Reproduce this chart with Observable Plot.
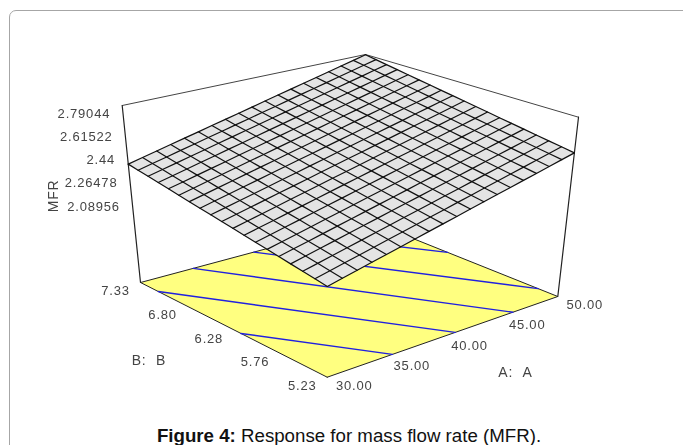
<!DOCTYPE html>
<html>
<head>
<meta charset="utf-8">
<script src="https://cdn.jsdelivr.net/npm/d3@7"></script>
<script src="https://cdn.jsdelivr.net/npm/@observablehq/plot@0.6"></script>
<style>
html,body{margin:0;padding:0;background:#fff;width:683px;height:445px;overflow:hidden}
#card{position:absolute;left:9px;top:10px;width:700px;height:520px;border:1.5px solid #a6a6a6;border-radius:7px;box-sizing:border-box}
#chart{position:absolute;left:0;top:0}
#chart svg{display:block}
#cap{position:absolute;left:0;top:423px;width:698px;text-align:center;font:18.7px/26px "Liberation Sans",Arial,sans-serif;color:#111}
</style>
</head>
<body>
<div id="card"></div>
<div id="chart"></div>
<div id="cap"><b>Figure 4:</b> Response for mass flow rate (MFR).</div>
<script>
// ---- axis values
const aTicks = [30, 35, 40, 45, 50];
const bTicks = [5.23, 5.76, 6.28, 6.80, 7.33];
const bLabels = ["5.23", "5.76", "6.28", "6.80", "7.33"];
const zTicks = [2.08956, 2.26478, 2.44, 2.61522, 2.79044];
const zLabels = ["2.08956", "2.26478", "2.44", "2.61522", "2.79044"];
const zFloor = 1.4565;   // level of the floor on the MFR axis, estimated

// ---- response surface: the plane read from its corners (fitted model)
const surfaceIntercept = 2.085;  // MFR at A=30, B=5.23
const surfaceSlopeA = 0.0220;
const surfaceSlopeB = 0.1255;
const gridSteps = 18;            // cells per side of the mesh

// ---- contour lines on the floor: end points [A, B]
const contourFrom = [[30, 6.20], [30, 7.13], [34.6, 7.33], [39.9, 7.33], [45, 7.33]];
const contourTo   = [[35.65, 5.23], [41.1, 5.23], [46.1, 5.23], [50, 5.45], [50, 6.46]];

// ---- view of the box: floor and ceiling corners (A30/B5.23, A50/B5.23, A50/B7.33, A30/B7.33)
const floorView = [[326.7, 376.7], [557.3, 296], [369, 220.6], [140, 282]];
const ceilingView = [[327, 184], [578, 116.7], [365, 54], [121.7, 105]];
function bilinear([p0, p1, p2, p3], u, v) {
  return [0, 1].map(k => (1-v)*((1-u)*p0[k] + u*p1[k]) + v*((1-u)*p3[k] + u*p2[k]));
}
function project(A, B, Z) {
  const u=(A-30)/20, v=(B-5.23)/(7.33-5.23), t=(Z-zFloor)/(2.79044-zFloor);
  const p=bilinear(floorView,u,v), q=bilinear(ceilingView,u,v);
  return [p[0]+(q[0]-p[0])*t, p[1]+(q[1]-p[1])*t];
}
function homography([[x0,y0],[x1,y1],[x2,y2],[x3,y3]]) {
  const dx1=x1-x2, dx2=x3-x2, sx=x0-x1+x2-x3, dy1=y1-y2, dy2=y3-y2, sy=y0-y1+y2-y3;
  const den=dx1*dy2-dx2*dy1, g=(sx*dy2-dx2*sy)/den, h=(dx1*sy-sx*dy1)/den;
  const a=x1-x0+g*x1, b=x3-x0+h*x3, d=y1-y0+g*y1, e=y3-y0+h*y3;
  return (u,v) => { const w=g*u+h*v+1; return {x:(a*u+b*v+x0)/w, y:(d*u+e*v+y0)/w}; };
}
const surface = (A, B) => surfaceIntercept + surfaceSlopeA*(A-30) + surfaceSlopeB*(B-5.23);
const gridA = d3.range(gridSteps+1).map(i => 30 + 20*i/gridSteps);
const gridB = d3.range(gridSteps+1).map(i => 5.23 + 2.1*i/gridSteps);

// ---- tables built from the values above
const pt = (A, B, Z) => { const [x,y]=project(A,B,Z); return {x,y}; };
const corners = [[30,5.23],[50,5.23],[50,7.33],[30,7.33],[30,5.23]];
const floor = corners.map(([A,B]) => pt(A,B,zFloor));
const surfaceOutline = corners.map(([A,B]) => pt(A,B,surface(A,B)));
const surfaceH = homography(surfaceOutline.slice(0,4).map(d => [d.x,d.y]));
const sp = (A, B) => surfaceH((A-30)/20, (B-5.23)/2.1);
const gridLines = [
  ...gridA.flatMap((A,i) => gridB.map(B => ({...sp(A,B), id:"a"+i}))),
  ...gridB.flatMap((B,i) => gridA.map(A => ({...sp(A,B), id:"b"+i})))
];
const contours = contourFrom.flatMap((f,i) => [
  {...pt(f[0],f[1],zFloor), id:i}, {...pt(contourTo[i][0],contourTo[i][1],zFloor), id:i}
]);
const boxTop = [[30,7.33],[50,7.33],[50,5.23]].map(([A,B]) => pt(A,B,2.79044));
const verticals = [[30,7.33],[50,5.23]].flatMap(([A,B],i) => [
  {...pt(A,B,zFloor), id:i}, {...pt(A,B,2.79044), id:i}
]);

const font = "'Liberation Sans',Arial,sans-serif";
const textColor = "#444";
const plot = Plot.plot({
  width: 683, height: 392, margin: 0,
  x: {domain:[0,683], range:[0,683], axis:null},
  y: {domain:[0,392], range:[0,392], axis:null},
  style: {background:"transparent", fontFamily:font, letterSpacing:"0.8px", filter:"blur(0.35px)"},
  marks: [
    Plot.line(boxTop, {x:"x", y:"y", stroke:"#444", strokeWidth:1}),
    Plot.line(verticals, {x:"x", y:"y", z:"id", stroke:"#222", strokeWidth:1.2}),
    Plot.line(floor, {x:"x", y:"y", fill:"#ffff80", stroke:"#222", strokeWidth:1}),
    Plot.line(contours, {x:"x", y:"y", z:"id", stroke:"#2020e0", strokeWidth:1.4}),
    Plot.line(surfaceOutline, {x:"x", y:"y", fill:"#e4e4e4", stroke:"none"}),
    Plot.line(gridLines, {x:"x", y:"y", z:"id", stroke:"#111", strokeWidth:1.2}),
    Plot.text(aTicks, {x:A=>pt(A,5.23,zFloor).x, y:A=>pt(A,5.23,zFloor).y, text:A=>A.toFixed(2), dx:27, dy:8.5, fontSize:13, fill:textColor}),
    Plot.text(bTicks, {x:B=>pt(30,B,zFloor).x, y:B=>pt(30,B,zFloor).y, text:(B,i)=>bLabels[i], dx:-25, dy:8.5, fontSize:13, fill:textColor}),
    Plot.text(zTicks, {x:Z=>pt(30,7.33,Z).x, y:Z=>pt(30,7.33,Z).y, text:(Z,i)=>zLabels[i], dx:-12, dy:8, textAnchor:"end", fontSize:13, fill:textColor}),
    Plot.text(["A:\u00a0\u00a0A"], {x:()=>pt(40,5.23,zFloor).x, y:()=>pt(40,5.23,zFloor).y, dx:73, dy:36, fontSize:14, fill:textColor}),
    Plot.text(["B:\u00a0\u00a0B"], {x:()=>pt(30,6.28,zFloor).x, y:()=>pt(30,6.28,zFloor).y, dx:-85, dy:31, fontSize:14, fill:textColor}),
    Plot.text(["MFR"], {x:()=>pt(30,7.33,2.35).x, y:()=>pt(30,7.33,2.35).y, dx:-75, dy:32, rotate:-90, fontSize:14, fill:textColor})
  ]
});
document.getElementById("chart").appendChild(plot);
</script>
</body>
</html>
